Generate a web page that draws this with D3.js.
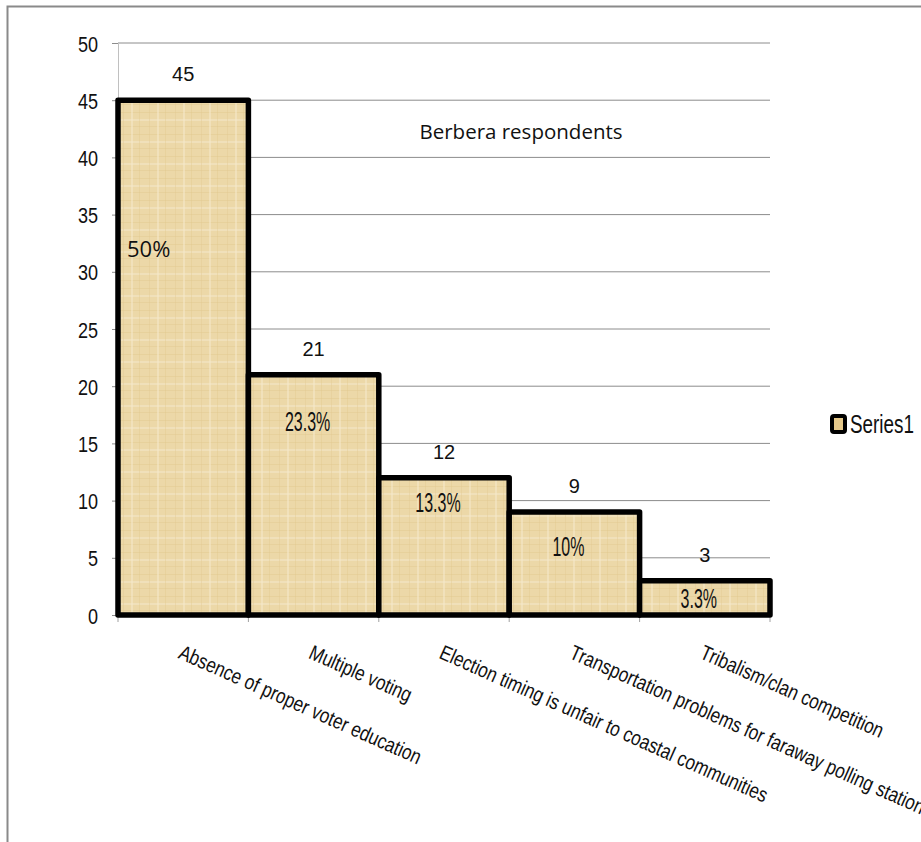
<!DOCTYPE html>
<html>
<head>
<meta charset="utf-8">
<script src="https://cdn.jsdelivr.net/npm/d3@7"></script>
<style>
  body { margin: 0; background: #fff; }
  svg { display: block; }
</style>
</head>
<body>
<div id="chart"></div>
<script>
// chart data
var categories = [
  "Absence of proper voter education",
  "Multiple voting",
  "Election timing is unfair to coastal communities",
  "Transportation problems for faraway polling stations",
  "Tribalism/clan competition"
];
var values = [45, 21, 12, 9, 3];
var pctLabels = ["50%", "23.3%", "13.3%", "10%", "3.3%"];
var yTicks = [0, 5, 10, 15, 20, 25, 30, 35, 40, 45, 50];
var seriesName = "Series1";
var title = "Berbera respondents";

// where the hand placed percent boxes sit, in axis units
var pctAt = [31.3, 16.1, 9.0, 5.2, 0.6];

var W = 921, H = 842;
var margin = {top: 43, left: 118, right: 151, bottom: 227};
var width = W - margin.left - margin.right,
    height = H - margin.top - margin.bottom;

// no narrow face installed, so squeeze Liberation Sans instead
var sans = "'Liberation Sans', Arial, sans-serif";
var squeeze = 0.82;

var svg = d3.select("#chart").append("svg")
    .attr("width", W)
    .attr("height", H);

// papyrus-ish texture for the bars
var defs = svg.append("defs");
var pat = defs.append("pattern")
    .attr("id", "papyrus")
    .attr("patternUnits", "userSpaceOnUse")
    .attr("width", 26).attr("height", 22);
pat.append("rect").attr("width", 26).attr("height", 22).attr("fill", "#ecd8a8");
[[0, 3, 26, 1, "#e0c88f", 0.45], [0, 10, 26, 2, "#f4e6c6", 0.6], [0, 17, 26, 1, "#dfc68c", 0.4],
 [5, 0, 1, 22, "#e2c991", 0.4], [13, 0, 2, 22, "#f5e8c9", 0.55], [21, 0, 1, 22, "#dec48a", 0.35]]
  .forEach(function(s) {
    pat.append("rect").attr("x", s[0]).attr("y", s[1]).attr("width", s[2]).attr("height", s[3])
      .attr("fill", s[4]).attr("opacity", s[5]);
  });

// outer frame (only left + top visible in the picture)
svg.append("path")
    .attr("d", "M7.5," + H + " L7.5,6.5 L" + W + ",6.5")
    .attr("fill", "none")
    .attr("stroke", "#8a8a8a")
    .attr("stroke-width", 2);

var g = svg.append("g")
    .attr("transform", "translate(" + margin.left + "," + margin.top + ")");

var x = d3.scaleBand()
    .domain(categories)
    .range([0, width])
    .padding(0);

var y = d3.scaleLinear()
    .domain([0, 50])
    .range([height, 0]);

// gridlines
g.append("g")
  .selectAll("line")
  .data(yTicks.filter(function(d) { return d > 0; }))
  .enter().append("line")
    .attr("x1", 0).attr("x2", width)
    .attr("y1", function(d) { return y(d); })
    .attr("y2", function(d) { return y(d); })
    .attr("stroke", "#8c8c8c")
    .attr("stroke-width", 1);

// Y axis
var yAxis = g.append("g")
    .call(d3.axisLeft(y).tickValues(yTicks).tickSize(6).tickPadding(20));
yAxis.select(".domain").attr("stroke", "#c0c0c0");
yAxis.selectAll(".tick line").attr("stroke", "#8c8c8c");
yAxis.selectAll(".tick text")
    .attr("font-family", sans)
    .attr("font-size", "22px")
    .attr("fill", "#111")
    .attr("x", -20 / squeeze)
    .attr("dy", "0.36em")
    .attr("transform", "scale(" + squeeze + ",1.03)");

// X axis
var xAxis = g.append("g")
    .attr("transform", "translate(0," + height + ")")
    .call(d3.axisBottom(x).tickSize(0).tickFormat(""));
xAxis.select(".domain").attr("stroke", "#8c8c8c");
var bounds = [0].concat(categories.map(function(c) { return x(c) + x.bandwidth(); }));
xAxis.selectAll(".bound")
  .data(bounds)
  .enter().append("line")
    .attr("class", "bound")
    .attr("x1", function(d) { return d; }).attr("x2", function(d) { return d; })
    .attr("y1", 0).attr("y2", 7)
    .attr("stroke", "#a0a0a0");

// bars
g.append("g")
  .selectAll("rect")
  .data(values)
  .enter().append("rect")
    .attr("x", function(d, i) { return x(categories[i]); })
    .attr("y", function(d) { return y(d); })
    .attr("width", x.bandwidth())
    .attr("height", function(d) { return height - y(d); })
    .attr("fill", "url(#papyrus)")
    .attr("stroke", "#000")
    .attr("stroke-width", 5.5)
    .attr("stroke-linejoin", "round");

// value labels above bars
g.append("g")
  .selectAll("text")
  .data(values)
  .enter().append("text")
    .attr("x", function(d, i) { return x(categories[i]) + x.bandwidth() / 2; })
    .attr("y", function(d) { return y(d) - 19; })
    .attr("text-anchor", "middle")
    .attr("font-family", sans)
    .attr("font-size", "20px")
    .attr("fill", "#111")
    .text(function(d) { return d; });

// percent text boxes inside the bars
g.append("g")
  .selectAll("text")
  .data(pctLabels)
  .enter().append("text")
    .attr("transform", function(d, i) {
      if (i === 0) return "translate(" + (x(categories[i]) + 9) + "," + y(pctAt[i]) + ")";
      var px = x(categories[i]) + x.bandwidth() / 2 - 6;
      return "translate(" + px + "," + y(pctAt[i]) + ") scale(0.78,1.38)";
    })
    .attr("text-anchor", function(d, i) { return i === 0 ? "start" : "middle"; })
    .attr("font-family", function(d, i) { return i === 0 ? "'Open Sans', 'Noto Sans', sans-serif" : sans; })
    .attr("font-size", function(d, i) { return i === 0 ? "22px" : "20.5px"; })
    .attr("fill", "#111")
    .text(function(d) { return d; });

// category labels, rotated
g.append("g")
  .selectAll("text")
  .data(categories)
  .enter().append("text")
    .attr("transform", function(d) {
      return "translate(" + (x(d) + x.bandwidth() / 2) + "," + (height + 29) + ") rotate(24) scale(" + squeeze + ",1)";
    })
    .attr("text-anchor", "start")
    .attr("dy", "0.71em")
    .attr("font-family", sans)
    .attr("font-size", "21px")
    .attr("fill", "#111")
    .text(function(d) { return d; });

// title inside plot
g.append("text")
    .attr("x", 403)
    .attr("y", 96)
    .attr("text-anchor", "middle")
    .attr("font-family", "'Open Sans', 'Noto Sans', sans-serif")
    .attr("font-size", "20.5px")
    .attr("fill", "#111")
    .text(title);

// legend
var lg = svg.append("g")
    .attr("transform", "translate(" + (margin.left + width + 62) + ",416)");
lg.append("rect")
    .attr("x", 0).attr("y", 0)
    .attr("width", 13).attr("height", 16)
    .attr("rx", 2)
    .attr("fill", "#e6c98a")
    .attr("stroke", "#000")
    .attr("stroke-width", 4);
lg.append("text")
    .attr("transform", "translate(18,17) scale(" + squeeze + ",1.1)")
    .attr("font-family", sans)
    .attr("font-size", "23px")
    .attr("fill", "#111")
    .text(seriesName);
</script>
</body>
</html>
